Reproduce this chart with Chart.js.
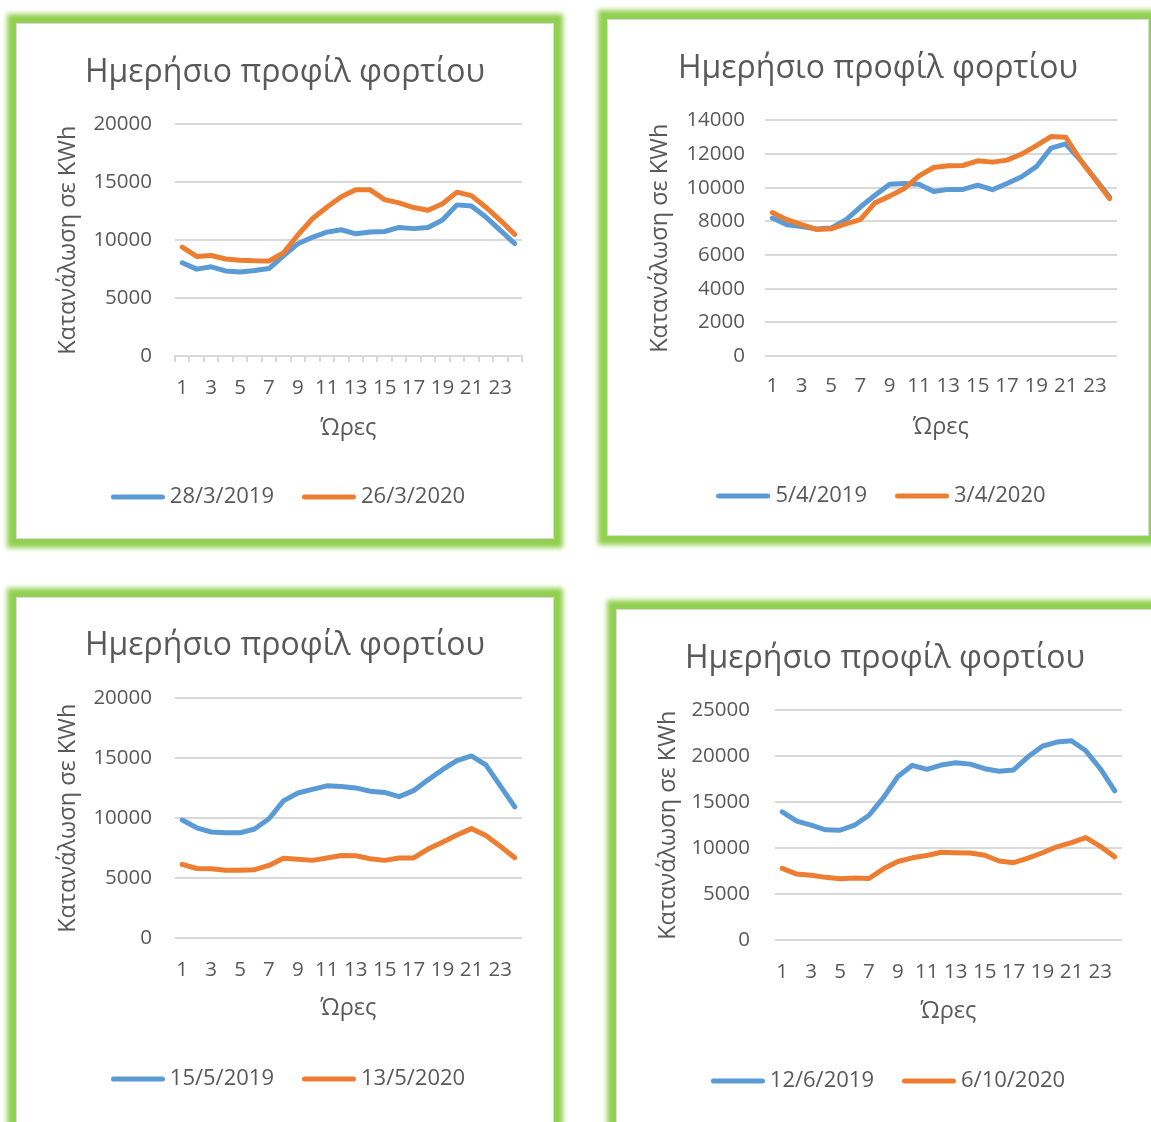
<!DOCTYPE html>
<html lang="el">
<head>
<meta charset="utf-8">
<title>Ημερήσιο προφίλ φορτίου</title>
<script src="https://cdn.jsdelivr.net/npm/chart.js@4.4.1/dist/chart.umd.min.js"></script>
<style>
  html, body { margin: 0; padding: 0; background: #ffffff; }
  body { width: 1151px; height: 1122px; overflow: hidden; position: relative; }
  .panel {
    position: absolute;
    box-sizing: border-box;
    background: #ffffff;
    border: 1px solid #d9d9d9;
    box-shadow: 0 0 5px 9px #92d050;
  }
  .panel canvas { position: absolute; left: 0; top: 0; }
</style>
</head>
<body>
<div class="panel" id="p1"><canvas id="c1"></canvas></div>
<div class="panel" id="p2"><canvas id="c2"></canvas></div>
<div class="panel" id="p3"><canvas id="c3"></canvas></div>
<div class="panel" id="p4"><canvas id="c4"></canvas></div>
<script>
// Hours of the day (category axis)
const hours = [1, 2, 3, 4, 5, 6, 7, 8, 9, 10, 11, 12, 13, 14, 15, 16, 17, 18, 19, 20, 21, 22, 23, 24];

// Hourly consumption in KWh, one array per day
const load_28_3_2019 = [8050, 7500, 7700, 7350, 7250, 7380, 7550, 8650, 9700, 10250, 10700, 10900, 10550, 10700, 10750, 11100, 11000, 11100, 11750, 13050, 12950, 12000, 10850, 9700];
const load_26_3_2020 = [9400, 8600, 8680, 8380, 8270, 8220, 8200, 8900, 10450, 11850, 12850, 13750, 14350, 14350, 13500, 13220, 12820, 12580, 13150, 14150, 13850, 12850, 11720, 10500];

const load_5_4_2019 = [8200, 7800, 7700, 7550, 7600, 8080, 8850, 9550, 10200, 10250, 10200, 9780, 9900, 9900, 10150, 9880, 10250, 10650, 11250, 12350, 12600, 11650, 10550, 9450];
const load_3_4_2020 = [8520, 8100, 7800, 7520, 7560, 7850, 8100, 9100, 9500, 9950, 10700, 11200, 11300, 11320, 11600, 11520, 11640, 12000, 12500, 13040, 13000, 11650, 10500, 9350];

const load_15_5_2019 = [9850, 9200, 8850, 8780, 8780, 9100, 9950, 11450, 12100, 12400, 12700, 12650, 12530, 12250, 12150, 11800, 12300, 13200, 14050, 14800, 15200, 14450, 12700, 10950];
const load_13_5_2020 = [6150, 5800, 5780, 5650, 5650, 5700, 6060, 6650, 6580, 6480, 6680, 6880, 6860, 6620, 6480, 6680, 6680, 7420, 8000, 8600, 9130, 8560, 7650, 6700];

const load_12_6_2019 = [13950, 12950, 12500, 12000, 11950, 12500, 13580, 15500, 17800, 19020, 18580, 19050, 19300, 19150, 18650, 18380, 18520, 19950, 21100, 21550, 21700, 20600, 18650, 16250];
const load_6_10_2020 = [7800, 7180, 7050, 6820, 6680, 6750, 6700, 7750, 8550, 8950, 9200, 9550, 9500, 9480, 9230, 8600, 8420, 8920, 9500, 10150, 10600, 11150, 10200, 9050];

// Series names shown in each legend
const names1 = ['28/3/2019', '26/3/2020'];
const names2 = ['5/4/2019', '3/4/2020'];
const names3 = ['15/5/2019', '13/5/2020'];
const names4 = ['12/6/2019', '6/10/2020'];

// Value axis ranges [max, step]
const yRange1 = [20000, 5000];
const yRange2 = [14000, 2000];
const yRange3 = [20000, 5000];
const yRange4 = [25000, 5000];

const chartTitle = 'Ημερήσιο προφίλ φορτίου';
const xTitle = 'Ώρες';
const yTitle = 'Κατανάλωση σε KWh';

// Look and layout
const FONT = '"Open Sans", "Noto Sans", sans-serif';
const TEXT = '#595959';
const GRID = '#d9d9d9';
const BLUE = '#5b9bd5';
const ORANGE = '#ed7d31';

const panels = [
  { panel: 'p1', canvas: 'c1', left: 16, top: 23, w: 538, h: 516,
    names: names1, series: [load_28_3_2019, load_26_3_2020], range: yRange1,
    titleTop: 30, titleBottom: 32, padBottom: 20, xH: 96, xTitlePad: 10, xTickPad: 14,
    yW: 127, yTitlePad: 6, yTickPad: 23, tickMarks: true },
  { panel: 'p2', canvas: 'c2', left: 607, top: 19, w: 542, h: 517,
    names: names2, series: [load_5_4_2019, load_3_4_2020], range: yRange2,
    titleTop: 30, titleBottom: 32, padBottom: 18, xH: 95, xTitlePad: 10, xTickPad: 18,
    yW: 126, yTitlePad: 7, yTickPad: 20, tickMarks: false },
  { panel: 'p3', canvas: 'c3', left: 16, top: 597, w: 538, h: 542,
    names: names3, series: [load_15_5_2019, load_13_5_2020], range: yRange3,
    titleTop: 29, titleBottom: 33, padBottom: 38, xH: 96, xTitlePad: 12, xTickPad: 20,
    yW: 127, yTitlePad: 6, yTickPad: 23, tickMarks: false },
  { panel: 'p4', canvas: 'c4', left: 616, top: 609, w: 538, h: 542,
    names: names4, series: [load_12_6_2019, load_6_10_2020], range: yRange4,
    titleTop: 30, titleBottom: 32, padBottom: 48, xH: 96, xTitlePad: 11, xTickPad: 20,
    yW: 127, yTitlePad: 6, yTickPad: 25, tickMarks: false }
];

// Legend key: a short round-capped stroke in the series colour
function legendStroke(color) {
  const c = document.createElement('canvas');
  c.width = 54;
  c.height = 8;
  const g = c.getContext('2d');
  g.strokeStyle = color;
  g.lineWidth = 5;
  g.lineCap = 'round';
  g.beginPath();
  g.moveTo(2.5, 4);
  g.lineTo(51.5, 4);
  g.stroke();
  return c;
}
const legendKeys = { [BLUE]: legendStroke(BLUE), [ORANGE]: legendStroke(ORANGE) };

// Nudges the legend block a little to the right of the panel centre
const legendNudge = {
  id: 'legendNudge',
  afterLayout(chart, args, opts) {
    if (chart.legend) {
      chart.legend.left += opts.dx;
      chart.legend.right += opts.dx;
    }
  }
};

function lineDataset(label, data, color, order) {
  return {
    label: label,
    data: data,
    borderColor: color,
    backgroundColor: color,
    borderWidth: 5,
    borderCapStyle: 'round',
    borderJoinStyle: 'round',
    pointRadius: 0,
    pointHoverRadius: 0,
    tension: 0,
    fill: false,
    order: order
  };
}

function buildChart(cfg) {
  const panel = document.getElementById(cfg.panel);
  panel.style.left = cfg.left + 'px';
  panel.style.top = cfg.top + 'px';
  panel.style.width = cfg.w + 'px';
  panel.style.height = cfg.h + 'px';
  const canvas = document.getElementById(cfg.canvas);
  canvas.width = cfg.w - 2;
  canvas.height = cfg.h - 2;
  canvas.style.width = (cfg.w - 2) + 'px';
  canvas.style.height = (cfg.h - 2) + 'px';

  const xGrid = cfg.tickMarks
    ? { display: true, drawOnChartArea: false, drawTicks: true, tickLength: 6, color: GRID, lineWidth: 2, offset: true }
    : { display: false, drawTicks: false };
  const xBorder = cfg.tickMarks
    ? { display: true, color: GRID, width: 2 }
    : { display: false };

  return new Chart(canvas, {
    type: 'line',
    plugins: [legendNudge],
    data: {
      labels: hours,
      datasets: [
        lineDataset(cfg.names[0], cfg.series[0], BLUE, 1),
        lineDataset(cfg.names[1], cfg.series[1], ORANGE, 0)
      ]
    },
    options: {
      responsive: false,
      animation: false,
      devicePixelRatio: 1,
      events: [],
      layout: { padding: { left: 31, right: 31, top: 0, bottom: cfg.padBottom } },
      plugins: {
        legendNudge: { dx: 6 },
        tooltip: { enabled: false },
        title: {
          display: true,
          text: chartTitle,
          color: TEXT,
          font: { family: FONT, size: 32, weight: 'normal' },
          padding: { top: cfg.titleTop, bottom: cfg.titleBottom }
        },
        legend: {
          position: 'bottom',
          labels: {
            usePointStyle: true,
            pointStyleWidth: 42,
            padding: 34,
            color: TEXT,
            font: { family: FONT, size: 22 },
            sort: (a, b) => a.datasetIndex - b.datasetIndex,
            generateLabels: (chart) => Chart.defaults.plugins.legend.labels.generateLabels(chart).map(item => Object.assign(item, {
              pointStyle: legendKeys[chart.data.datasets[item.datasetIndex].borderColor]
            }))
          }
        }
      },
      scales: {
        x: {
          offset: true,
          grid: xGrid,
          border: xBorder,
          ticks: {
            autoSkip: false,
            maxRotation: 0,
            minRotation: 0,
            padding: cfg.xTickPad,
            color: TEXT,
            font: { family: FONT, size: 20.5 },
            callback: function (value, index) { return index % 2 === 0 ? String(this.getLabelForValue(value)) : ''; }
          },
          title: {
            display: true,
            text: xTitle,
            color: TEXT,
            font: { family: FONT, size: 23.5 },
            padding: { top: 0, bottom: cfg.xTitlePad }
          },
          afterFit: (scale) => { scale.height = cfg.xH; }
        },
        y: {
          min: 0,
          max: cfg.range[0],
          grid: { color: GRID, lineWidth: 2, drawTicks: false },
          border: { display: false },
          ticks: {
            stepSize: cfg.range[1],
            padding: cfg.yTickPad,
            color: TEXT,
            font: { family: FONT, size: 20.5 },
            callback: (v) => String(v)
          },
          title: {
            display: true,
            text: yTitle,
            color: TEXT,
            font: { family: FONT, size: 23.5 },
            padding: { top: cfg.yTitlePad, bottom: 0 }
          },
          afterFit: (scale) => { scale.width = cfg.yW; }
        }
      }
    }
  });
}

panels.forEach(buildChart);
</script>
</body>
</html>
